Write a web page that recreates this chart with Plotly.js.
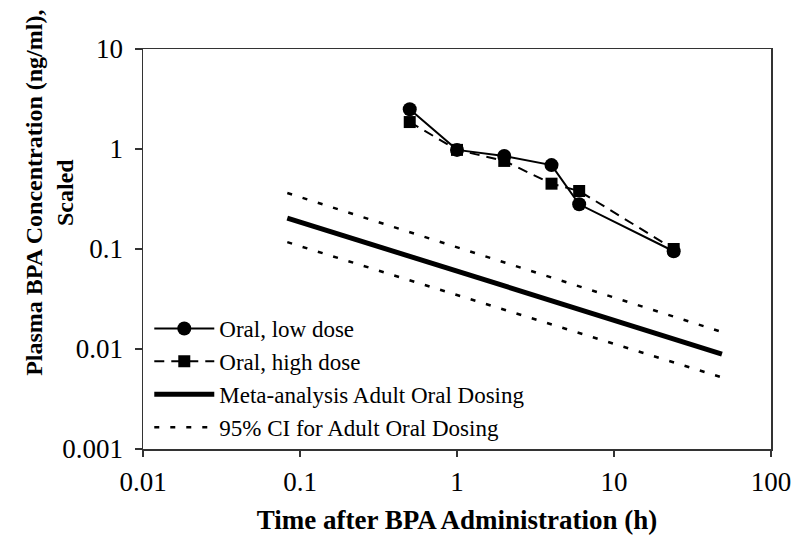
<!DOCTYPE html>
<html>
<head>
<meta charset="utf-8">
<script src="https://cdn.plot.ly/plotly-3.0.1.min.js"></script>
<style>
  html, body { margin: 0; padding: 0; background: #fff; }
  #plot { width: 800px; height: 546px; }
</style>
</head>
<body>
<div id="plot"></div>
<script>
// sampling times (h) and scaled plasma concentrations (ng/ml)
const timeH = [0.5, 1, 2, 4, 6, 24];
const lowDose = [2.5, 0.98, 0.85, 0.69, 0.28, 0.095];
const highDose = [1.86, 0.98, 0.76, 0.45, 0.38, 0.10];

// meta-analysis fit for adult oral dosing, with 95% CI
const metaTime = [0.083, 48.7];
const metaFit = [0.204, 0.0089];
const ciUpper = [0.363, 0.0148];
const ciLower = [0.117, 0.0052];

const xTicks = [0.01, 0.1, 1, 10, 100];
const xTickText = ['0.01', '0.1', '1', '10', '100'];
const yTicks = [0.001, 0.01, 0.1, 1, 10];
const yTickText = ['0.001', '0.01', '0.1', '1', '10'];

const font = "'Liberation Serif', 'Times New Roman', serif";

const traces = [
    {
        x: timeH, y: lowDose, name: 'Oral, low dose',
        type: 'scatter', mode: 'lines+markers',
        line: {color: '#000', width: 2},
        marker: {symbol: 'circle', size: 14, color: '#000'},
    },
    {
        x: timeH, y: highDose, name: 'Oral, high dose',
        type: 'scatter', mode: 'lines+markers',
        line: {color: '#000', width: 2, dash: '10px,7px'},
        marker: {symbol: 'square', size: 12, color: '#000'},
    },
    {
        x: metaTime, y: metaFit, name: 'Meta-analysis Adult Oral Dosing',
        type: 'scatter', mode: 'lines',
        line: {color: '#000', width: 5},
    },
    {
        x: metaTime, y: ciUpper, name: '95% CI for Adult Oral Dosing',
        type: 'scatter', mode: 'lines',
        line: {color: '#000', width: 2.5, dash: '5px,11px'},
    },
    {
        x: metaTime, y: ciLower, name: '95% CI lower',
        type: 'scatter', mode: 'lines', showlegend: false,
        line: {color: '#000', width: 2.5, dash: '5px,11px'},
    },
];

const layout = {
    width: 800,
    height: 546,
    margin: {l: 143, r: 29, t: 49, b: 97},
    paper_bgcolor: '#fff',
    plot_bgcolor: '#fff',
    font: {family: font, color: '#000', size: 26},
    showlegend: true,
    legend: {
        x: 0.01, y: 0.0, xanchor: 'left', yanchor: 'bottom',
        bgcolor: 'rgba(0,0,0,0)',
        font: {family: font, size: 23, color: '#000'},
        itemwidth: 60,
        tracegroupgap: 0,
    },
    xaxis: {
        type: 'log',
        range: [-2, 2],
        tickvals: xTicks,
        ticktext: xTickText,
        ticks: 'outside',
        ticklen: 6,
        tickwidth: 1.5,
        tickcolor: '#333',
        ticklabelstandoff: 2,
        showline: true,
        linecolor: '#333',
        linewidth: 1.5,
        mirror: true,
        showgrid: false,
        zeroline: false,
        tickfont: {family: font, size: 27, color: '#000'},
        title: {
            text: '<b>Time after BPA Administration (h)</b>',
            font: {family: font, size: 27, color: '#000'},
            standoff: 14,
        },
    },
    yaxis: {
        type: 'log',
        range: [-3, 1],
        tickvals: yTicks,
        ticktext: yTickText,
        ticks: 'outside',
        ticklen: 7,
        tickwidth: 1.5,
        tickcolor: '#333',
        ticklabelstandoff: 6,
        showline: true,
        linecolor: '#333',
        linewidth: 1.5,
        mirror: true,
        showgrid: false,
        zeroline: false,
        tickfont: {family: font, size: 27, color: '#000'},
    },
    annotations: [{
        text: '<b>Plasma BPA Concentration (ng/ml),<br>Scaled</b>',
        xref: 'paper', yref: 'paper',
        x: -0.15, y: 0.64,
        xanchor: 'center', yanchor: 'middle',
        textangle: -90,
        showarrow: false,
        font: {family: font, size: 24, color: '#000'},
    }],
};

Plotly.newPlot('plot', traces, layout, {displayModeBar: false, staticPlot: true});
</script>
</body>
</html>
